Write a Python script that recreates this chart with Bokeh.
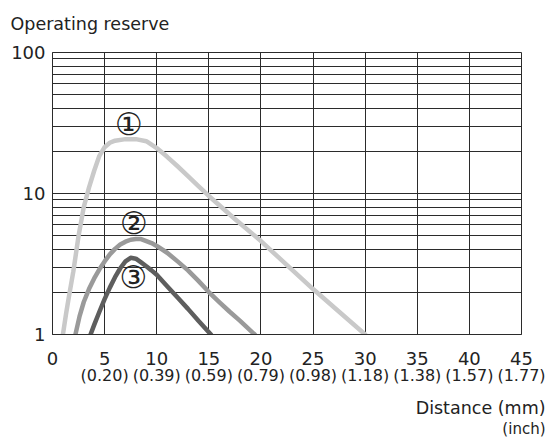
from bokeh.plotting import figure
from bokeh.models import FixedTicker, LinearAxis, ColumnDataSource, Range1d, Title
from bokeh.core.properties import value
from bokeh.embed import file_html
from bokeh.resources import INLINE

# ---- data ----
mm_ticks = [0, 5, 10, 15, 20, 25, 30, 35, 40, 45]
inch_labels = ["", "(0.20)", "(0.39)", "(0.59)", "(0.79)", "(0.98)", "(1.18)", "(1.38)", "(1.57)", "(1.77)"]
y_ticks = [1, 10, 100]
y_minor = [2, 3, 4, 5, 6, 7, 8, 9, 20, 30, 40, 50, 60, 70, 80, 90]

c1_x = [1.0, 1.3, 1.6, 2.0, 2.5, 3.0, 3.5, 4.0, 4.5, 5.0, 5.5, 6.0, 7.0, 8.0, 9.0, 10.0,
        11.0, 12.0, 13.0, 14.0, 15.0, 17.5, 20.0, 22.5, 25.0, 27.5, 30.0]
c1_y = [1.0, 1.4, 1.9, 2.8, 5.0, 8.0, 11.0, 14.5, 18.5, 21.3, 22.9, 23.7, 24.3, 24.3, 23.5, 21.0,
        18.2, 15.6, 13.3, 11.3, 9.6, 6.6, 4.6, 3.1, 2.1, 1.45, 1.0]

c2_x = [2.2, 2.6, 3.0, 3.5, 4.0, 4.5, 5.0, 5.5, 6.0, 6.5, 7.0, 7.5, 8.0, 8.5, 9.0, 9.5, 10.0,
        11.0, 12.0, 13.0, 14.0, 15.0, 16.0, 17.0, 18.0, 19.4]
c2_y = [1.0, 1.35, 1.7, 2.1, 2.5, 2.9, 3.3, 3.7, 4.05, 4.35, 4.55, 4.7, 4.75, 4.75, 4.6, 4.45, 4.25,
        3.8, 3.3, 2.85, 2.4, 2.0, 1.7, 1.45, 1.25, 1.0]

c3_x = [3.65, 4.0, 4.5, 5.0, 5.5, 6.0, 6.5, 7.0, 7.5, 8.0, 8.5, 9.0, 9.5, 10.0, 11.0, 12.0, 13.0, 14.0, 15.2]
c3_y = [1.0, 1.17, 1.45, 1.78, 2.15, 2.55, 2.95, 3.3, 3.5, 3.45, 3.25, 3.05, 2.85, 2.65, 2.2, 1.83, 1.52, 1.25, 1.0]

curve_names = ["\u2460", "\u2461", "\u2462"]
name_x = [7.32, 7.82, 7.76]
name_y = [31.2, 6.16, 2.55]

title_text = "Operating reserve"
x_title = "Distance (mm)"
x_subtitle = "(inch)"

# ---- styling ----
GRID = "#2b2b2b"
TXT = "#222222"
FONT = "DejaVu Sans"
W, H = 548, 439

p = figure(width=W, height=H, x_range=Range1d(0, 45), y_range=Range1d(1, 100),
           y_axis_type="log", output_backend="svg", toolbar_location=None,
           min_border_left=52, min_border_right=W - 521, min_border_top=52, min_border_bottom=105)
p.background_fill_color = "white"
p.border_fill_color = "white"
p.outline_line_color = GRID
p.outline_line_width = 1

xt = FixedTicker(ticks=mm_ticks)
yt = FixedTicker(ticks=y_ticks, minor_ticks=y_minor)
p.xaxis.ticker = xt
p.yaxis.ticker = yt
p.xgrid.ticker = xt
p.ygrid.ticker = yt

p.xgrid.grid_line_color = GRID
p.xgrid.grid_line_width = 1
p.ygrid.grid_line_color = GRID
p.ygrid.grid_line_width = 1
p.ygrid.minor_grid_line_color = GRID
p.ygrid.minor_grid_line_width = 1

for ax in (p.xaxis[0], p.yaxis[0]):
    ax.axis_line_color = GRID
    ax.major_tick_line_color = None
    ax.minor_tick_line_color = None
    ax.major_tick_out = 0
    ax.major_tick_in = 0
    ax.minor_tick_out = 0
    ax.minor_tick_in = 0
    ax.major_label_text_font = FONT
    ax.major_label_text_font_size = "18px"
    ax.major_label_text_color = TXT

p.xaxis.major_label_overrides = {t: str(t) for t in mm_ticks}
p.xaxis.major_label_standoff = 17
p.yaxis.major_label_overrides = {t: str(t) for t in y_ticks}
p.yaxis.major_label_standoff = 7

inch_axis = LinearAxis(ticker=FixedTicker(ticks=mm_ticks),
                       major_label_overrides=dict(zip(mm_ticks, inch_labels)),
                       axis_line_color=None, major_tick_line_color=None, minor_tick_line_color=None,
                       major_tick_out=0, major_tick_in=0, minor_tick_out=0, minor_tick_in=0,
                       major_label_standoff=-2, major_label_text_font=FONT,
                       major_label_text_font_size="16px", major_label_text_color=TXT,
                       axis_label=" ", axis_label_text_font_size="6px", axis_label_standoff=1)
p.add_layout(inch_axis, "below")

# titles: y title above (with a spacer), x titles below, right aligned
p.add_layout(Title(text=" ", text_font_size="10px", standoff=5), "above")
p.add_layout(Title(text=title_text, align="left", vertical_align="middle", offset=-42, standoff=0,
                   text_font=FONT, text_font_size="17.5px", text_font_style="normal",
                   text_color=TXT), "above")
p.add_layout(Title(text=x_title, align="right", vertical_align="top", offset=-24, standoff=0,
                   text_font=FONT, text_font_size="17.5px", text_font_style="normal",
                   text_color=TXT), "below")
p.add_layout(Title(text=x_subtitle, align="right", vertical_align="top", offset=-24, standoff=0,
                   text_font=FONT, text_font_size="15px", text_font_style="normal",
                   text_color=TXT), "below")

colors = ["#c9c9c9", "#9a9a9a", "#5e5e5e"]
for xs, ys, c in ((c1_x, c1_y, colors[0]), (c2_x, c2_y, colors[1]), (c3_x, c3_y, colors[2])):
    p.line(xs, ys, line_color=c, line_width=4.5, line_cap="round", line_join="round")

src = ColumnDataSource(dict(x=name_x, y=name_y, t=curve_names))
p.text(x="x", y="y", text="t", source=src, text_font=value(FONT), text_font_size="31px",
       text_align="center", text_baseline="middle", text_color=TXT)

open("out.html", "w").write(file_html(p, INLINE))
